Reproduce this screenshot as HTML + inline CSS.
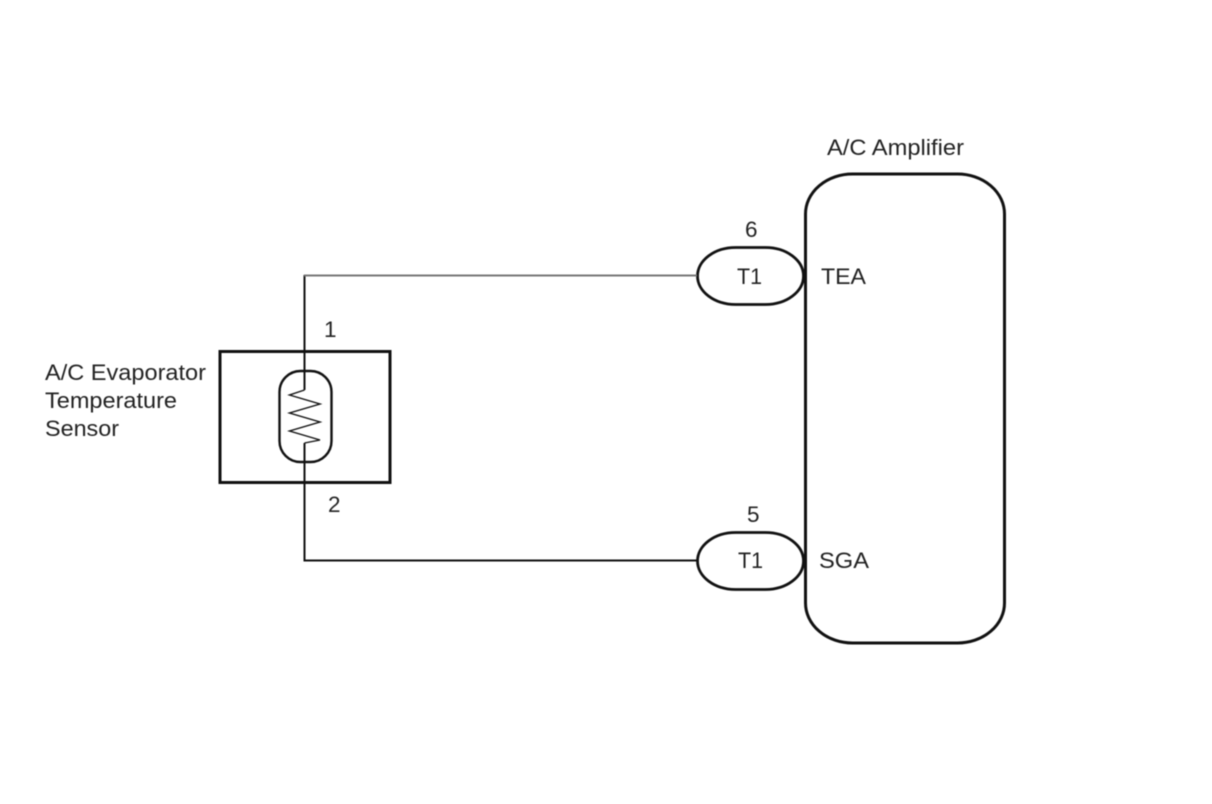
<!DOCTYPE html>
<html>
<head>
<meta charset="utf-8">
<style>
html,body{margin:0;padding:0;background:#fff;width:1212px;height:804px;overflow:hidden}
svg{display:block;filter:blur(0.45px)}
text{font-family:"Liberation Sans",Arial,sans-serif;font-size:22.5px;fill:#222}
</style>
</head>
<body>
<svg width="1212" height="804" viewBox="0 0 1212 804" xmlns="http://www.w3.org/2000/svg">
<rect width="1212" height="804" fill="#fff"/>
<g fill="none" stroke="#111">
  <rect x="805.5" y="174" width="199" height="469" rx="47" ry="40" stroke-width="3"/>
  <rect x="220" y="351.5" width="170" height="131" stroke-width="3"/>
  <rect x="279.5" y="371" width="52" height="91" rx="21" ry="21" stroke-width="2.4"/>
  <rect x="697.5" y="247.5" width="106" height="57" rx="38" ry="28.5" stroke-width="2.8"/>
  <rect x="697.5" y="532.5" width="106" height="57" rx="38" ry="28.5" stroke-width="2.8"/>
  <path d="M304.5 390V275" stroke-width="2"/>
  <path d="M304 275.5H697" stroke="#777" stroke-width="2"/>
  <path d="M304.5 443V560.5H697" stroke-width="2"/>
  <path d="M304.5 390L289.5 395L320 404L289.5 413L320 422L289.5 431L320 440L304.5 443" stroke-width="1.4"/>
</g>
<text x="827" y="155" textLength="137" lengthAdjust="spacingAndGlyphs">A/C Amplifier</text>
<text x="45" y="380" textLength="161" lengthAdjust="spacingAndGlyphs">A/C Evaporator</text>
<text x="45" y="408" textLength="132" lengthAdjust="spacingAndGlyphs">Temperature</text>
<text x="45" y="436" textLength="74" lengthAdjust="spacingAndGlyphs">Sensor</text>
<text x="745" y="237">6</text>
<text x="747" y="522">5</text>
<text x="324" y="337">1</text>
<text x="328" y="512">2</text>
<text x="737" y="284" textLength="25" lengthAdjust="spacingAndGlyphs">T1</text>
<text x="738" y="568" textLength="25" lengthAdjust="spacingAndGlyphs">T1</text>
<text x="821" y="284" textLength="45" lengthAdjust="spacingAndGlyphs">TEA</text>
<text x="819" y="568" textLength="50" lengthAdjust="spacingAndGlyphs">SGA</text>
</svg>
</body>
</html>
